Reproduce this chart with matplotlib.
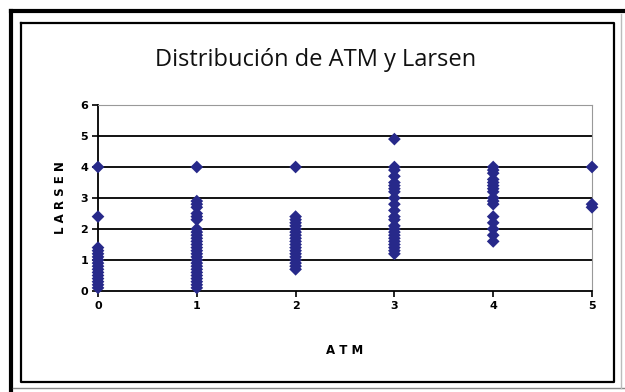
import matplotlib
matplotlib.use("Agg")
import matplotlib.pyplot as plt
from matplotlib.lines import Line2D

# ATM value -> LARSEN values
atm_0 = [4.0, 2.4, 1.4, 1.3, 1.2, 1.1, 1.0, 0.9, 0.8, 0.7, 0.6, 0.5, 0.4, 0.3, 0.2, 0.1]
atm_1 = [4.0, 2.9, 2.8, 2.7, 2.5, 2.4, 2.3, 2.0, 1.9, 1.8, 1.7, 1.6, 1.5, 1.4, 1.3,
         1.2, 1.1, 1.0, 0.9, 0.8, 0.7, 0.6, 0.5, 0.4, 0.3, 0.2, 0.1]
atm_2 = [4.0, 2.4, 2.3, 2.2, 2.1, 2.0, 1.9, 1.8, 1.7, 1.6, 1.5, 1.4, 1.3, 1.2, 1.1,
         1.0, 0.9, 0.8, 0.7]
atm_3 = [4.9, 4.0, 3.9, 3.7, 3.5, 3.4, 3.3, 3.2, 3.0, 2.8, 2.6, 2.4, 2.3, 2.1, 2.0,
         1.9, 1.8, 1.7, 1.6, 1.5, 1.4, 1.3, 1.2]
atm_4 = [4.0, 3.9, 3.8, 3.6, 3.5, 3.4, 3.3, 3.2, 3.0, 2.9, 2.8, 2.4, 2.2, 2.0, 1.8, 1.6]
atm_5 = [4.0, 2.8, 2.7]

columns = [atm_0, atm_1, atm_2, atm_3, atm_4, atm_5]
xs = []
ys = []
for i, col in enumerate(columns):
    xs += [i] * len(col)
    ys += col

W, H = 625, 392
fig = plt.figure(figsize=(W / 100, H / 100), dpi=100)
fig.patch.set_facecolor("white")


def px(x, y):
    # pixel (from top-left) -> figure fraction
    return x / W, 1 - y / H


# outer frame
for (x0, y0), (x1, y1), lw, c in [((11, 11), (11, 392), 3.0, "black"),
                                  ((11, 11), (625, 11), 3.0, "black"),
                                  ((13, 388), (625, 388), 1.0, "#888888"),
                                  ((621, 14), (621, 388), 1.0, "#bbbbbb")]:
    a, b = px(x0, y0)
    c2, d = px(x1, y1)
    fig.add_artist(Line2D([a, c2], [b, d], lw=lw, color=c, transform=fig.transFigure))

# inner frame
ix = [21, 614, 614, 21, 21]
iy = [23, 23, 382, 382, 23]
fx = [px(x, 0)[0] for x in ix]
fy = [px(0, y)[1] for y in iy]
fig.add_artist(Line2D(fx, fy, lw=1.6, color="black", transform=fig.transFigure))

ax = fig.add_axes([98 / W, 1 - 291 / H, (592 - 98) / W, (291 - 105) / H])
ax.scatter(xs, ys, marker="D", s=42, color="#27298a", edgecolors="none",
           zorder=3, clip_on=False)

ax.set_xlim(0, 5)
ax.set_ylim(0, 6)
ax.set_xticks(range(6))
ax.set_yticks(range(7))
for v in range(1, 6):
    ax.axhline(v, color="black", lw=1.3, zorder=1)

ax.spines["top"].set_color("#999999")
ax.spines["right"].set_color("#999999")
ax.spines["left"].set_linewidth(1.3)
ax.spines["bottom"].set_linewidth(1.3)
ax.tick_params(direction="out", length=4, width=1.2, labelsize=8, pad=3)
for lab in ax.get_xticklabels() + ax.get_yticklabels():
    lab.set_fontweight("bold")

ax.set_xlabel("A T M", fontsize=8.5, fontweight="bold", labelpad=24)
ax.set_ylabel("L A R S E N", fontsize=8.5, fontweight="bold", labelpad=10)

fig.text(316 / W, 1 - 60 / H, "Distribución de ATM y Larsen", ha="center", va="center",
         fontsize=17, family="Open Sans", color="#111111")

fig.savefig("out.png", dpi=100, facecolor="white")
